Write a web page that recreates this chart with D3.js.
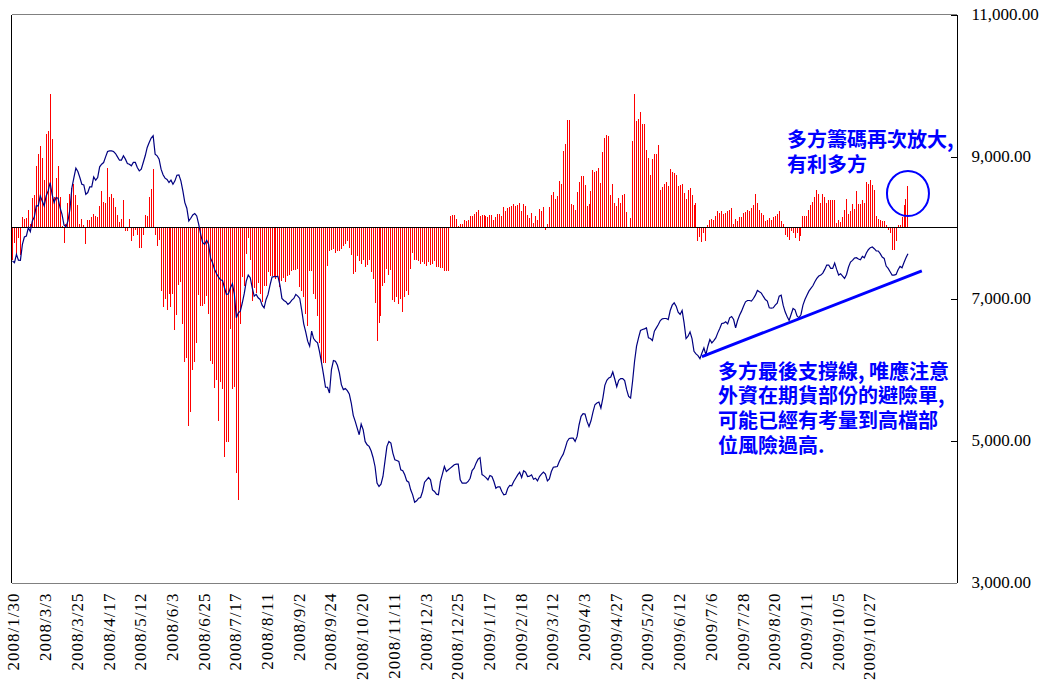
<!DOCTYPE html>
<html>
<head>
<meta charset="utf-8">
<script src="https://cdn.jsdelivr.net/npm/d3@7"></script>
<style>
	body { margin: 0; background: #fff; }
	svg { display: block; }
	.serif text { font-family: "Liberation Serif", "Times New Roman", serif; }
</style>
</head>
<body>
<svg id="chart" width="1046" height="684"></svg>
<script>
// date labels, one every 16 trading days
var tickLabels = ["2008/1/30", "2008/3/3", "2008/3/25", "2008/4/17", "2008/5/12", "2008/6/3", "2008/6/25",
	"2008/7/17", "2008/8/11", "2008/9/2", "2008/9/24", "2008/10/20", "2008/11/11", "2008/12/3", "2008/12/25",
	"2009/1/17", "2009/2/18", "2009/3/12", "2009/4/3", "2009/4/27", "2009/5/20", "2009/6/12", "2009/7/6",
	"2009/7/28", "2009/8/20", "2009/9/11", "2009/10/5", "2009/10/27"];
var labelEvery = 16;
var slotCount = 477;

// foreign futures net open interest (contracts), one per trading day
var barValues = [
	-3200, -1500, -2700, -1000, -2700, 1000, 800, 900, 1700, 300,
	2900, 3200, 6100, 7200, 8000, 6900, 4700, 9200, 9500, 13200,
	8700, 3000, 4900, 6100, 3000, 100, -1500, 300, 2400, 3300,
	3900, 4300, 3200, 2200, 300, 800, 200, -1600, 700, 700,
	1000, 1300, 1100, 1000, 2100, 3600, 2500, 2400, 5900, 3000,
	3300, 2900, 2000, 1200, 500, 800, 2700, -300, -300, 800,
	-1300, -800, -200, -700, -2000, -2000, -700, 1200, 1100, 3000,
	3800, 5800, -700, -1800, -1200, -6200, -7800, -7000, -8100, -6500,
	-7800, -6500, -10100, -8600, -5600, -5300, -9500, -13200, -12800, -19500,
	-18100, -14000, -13200, -11300, -6600, -7700, -7700, -7500, -6700, -8500,
	-13100, -13400, -15800, -15000, -19000, -15200, -15900, -22600, -21100, -21100,
	-10000, -15900, -15700, -24200, -26800, -9500, -4800, -5700, -2600, -1000,
	-3200, -7200, -5900, -6400, -5400, -6500, -7300, -5700, -5700, -4300,
	-4700, -4700, -4800, -5000, -4800, -5800, -5200, -4900, -5300, -4700,
	-4600, -4200, -4100, -4100, -4000, -5800, -6200, -6800, -8500, -9700,
	-4200, -4200, -6500, -7000, -8700, -11300, -13300, -13300, -13300, -3700,
	-2300, -2200, -2100, -2500, -2300, -2300, -2100, -1800, -1600, -1300,
	-2000, -2700, -4500, -4300, -2800, -3300, -3500, -3200, -3800, -3600,
	-3200, -4300, -5000, -7400, -11100, -9400, -8700, -5700, -5400, -4000,
	-4600, -4100, -7100, -7300, -6800, -7500, -7000, -8300, -6800, -6200,
	-6600, -4000, -2500, -3200, -3200, -3300, -3500, -3400, -3500, -3700,
	-3400, -3600, -3500, -3300, -3800, -3800, -3900, -3900, -4200, -4200,
	-4200, 1100, 1200, 1200, 800, 100, 300, 300, 700, 600,
	700, 1100, 1100, 1300, 1500, 1700, 1100, 1200, 1200, 1100,
	1000, 1200, 1200, 700, 1000, 1300, 1300, 1100, 2000, 1600,
	1900, 2000, 2100, 2300, 2100, 2200, 2400, 1600, 2300, 2100,
	1200, 900, 1400, 400, 1100, 700, 1800, 1600, 2000, -200,
	300, 2000, 3200, 3500, 2800, 3100, 4600, 4300, 7500, 8200,
	10600, 10600, 2300, 2200, 1700, 3500, 4500, 5100, 5100, 4200,
	2100, 2300, 3600, 5700, 5500, 5600, 5900, 4400, 7400, 8800,
	9100, 9000, 3200, 4300, 2400, 2100, 2900, 2400, 3200, 3300,
	1500, 0, 900, 8500, 13200, 10500, 10700, 11400, 10200, 10200,
	7600, 6900, 5200, 6800, 7200, 7200, 8100, 3700, 4000, 4300,
	4500, 4100, 5800, 5500, 5400, 5200, 4100, 4200, 4300, 3400,
	2800, 3700, 3900, 3200, 2200, 2400, -1300, -900, -1400, -500,
	-1300, 200, 700, 800, 700, 1100, 1600, 1400, 1600, 1300,
	1400, 1600, 1700, 1900, 300, 800, 600, 1000, 1000, 1400,
	1500, 1700, 1600, 1900, 2200, 3300, 2400, 1700, 1400, 1200,
	600, 700, 900, 700, 1000, 1100, 1300, 1600, 600, 300,
	-700, -900, -1200, -300, -500, -1000, -500, -1300, -800, 1100,
	1100, 1100, 1700, 2200, 2500, 3000, 3700, 3300, 2400, 3300,
	3000, 2400, 2700, 2700, 2700, 2700, 400, 700, 500, 1000,
	1700, 2800, 1300, 1600, 2300, 1800, 3600, 2300, 2300, 2700,
	2400, 4500, 4300, 4700, 4200, 3700, 1100, 800, 700, 600,
	600, 200, -200, -500, -2200, -2200, -1300, 200, 200, 1000,
	2200, 2800, 4100
];

// TAIEX close, same trading days
var indexValues = [
	7527, 7504, 7621, 7541, 7537, 7763, 7866, 7880, 7998, 7941,
	8092, 8148, 8304, 8304, 8445, 8374, 8304, 8445, 8515, 8633,
	8468, 8351, 8421, 8412, 8280, 8186, 8035, 8007, 8092, 8257,
	8562, 8704, 8835, 8788, 8704, 8610, 8600, 8468, 8492, 8572,
	8572, 8713, 8666, 8704, 8854, 8892, 8915, 8995, 9070, 9080,
	9080, 9070, 9042, 8995, 8948, 8949, 9010, 8963, 8902, 8892,
	8869, 8916, 8916, 8845, 8798, 8822, 8916, 9010, 9128, 9198,
	9259, 9292, 9034, 9010, 8963, 8822, 8742, 8695, 8676, 8634,
	8667, 8610, 8657, 8737, 8742, 8657, 8516, 8351, 8271, 8093,
	8130, 8177, 8196, 8163, 8045, 7904, 7787, 7763, 7820, 7763,
	7566, 7504, 7410, 7349, 7302, 7264, 7255, 7151, 7057, 7067,
	7151, 7208, 7057, 6728, 6799, 6822, 6940, 7072, 7246, 7330,
	7293, 7152, 7034, 7058, 7010, 6987, 6907, 6869, 6987, 7058,
	7189, 7302, 7307, 7307, 7312, 7189, 7001, 6973, 6954, 6916,
	6940, 6978, 7001, 7058, 7034, 7001, 6832, 6643, 6531, 6399,
	6328, 6540, 6436, 6399, 6375, 6248, 6093, 5928, 5750, 5750,
	5670, 5999, 6126, 6117, 6060, 5952, 5787, 5717, 5731, 5702,
	5655, 5528, 5354, 5270, 5175, 5081, 5232, 5152, 4987, 4940,
	4917, 4856, 4761, 4634, 4399, 4352, 4385, 4493, 4705, 4917,
	4987, 4964, 4823, 4729, 4719, 4705, 4587, 4573, 4517, 4432,
	4413, 4305, 4235, 4131, 4150, 4187, 4197, 4282, 4413, 4446,
	4479, 4446, 4305, 4282, 4244, 4235, 4423, 4526, 4634, 4564,
	4587, 4611, 4634, 4658, 4667, 4667, 4446, 4399, 4399, 4399,
	4423, 4469, 4577, 4610, 4681, 4737, 4760, 4520, 4502, 4478,
	4446, 4507, 4493, 4422, 4328, 4347, 4347, 4281, 4234, 4243,
	4328, 4366, 4361, 4422, 4469, 4516, 4554, 4478, 4573, 4554,
	4493, 4497, 4516, 4455, 4469, 4431, 4493, 4526, 4554, 4526,
	4431, 4460, 4563, 4624, 4629, 4634, 4704, 4761, 4808, 4893,
	4987, 5029, 5034, 5034, 4987, 5057, 5222, 5340, 5377, 5372,
	5269, 5198, 5278, 5401, 5504, 5528, 5542, 5457, 5598, 5777,
	5848, 5881, 5895, 5965, 5866, 5758, 5848, 5871, 5871, 5843,
	5716, 5622, 5598, 5834, 6116, 6328, 6445, 6549, 6563, 6572,
	6586, 6445, 6436, 6408, 6539, 6586, 6633, 6690, 6713, 6718,
	6718, 6704, 6831, 6906, 6939, 6892, 6807, 6775, 6831, 6657,
	6436, 6469, 6530, 6436, 6257, 6219, 6196, 6153, 6233, 6304,
	6210, 6328, 6422, 6375, 6408, 6445, 6516, 6577, 6648, 6652,
	6671, 6643, 6728, 6746, 6704, 6586, 6690, 6765, 6822, 6892,
	6953, 6972, 6972, 6963, 7000, 7047, 7113, 7094, 7076, 7029,
	6986, 6963, 6869, 6864, 6869, 6906, 6935, 7033, 7047, 6906,
	6812, 6746, 6690, 6775, 6859, 6840, 6756, 6728, 6775, 6906,
	6986, 7047, 7104, 7142, 7179, 7236, 7283, 7316, 7330, 7358,
	7410, 7471, 7471, 7424, 7424, 7499, 7410, 7330, 7349, 7316,
	7283, 7339, 7443, 7513, 7537, 7570, 7574, 7556, 7546, 7593,
	7574, 7640, 7687, 7716, 7725, 7701, 7669, 7669, 7631, 7584,
	7565, 7457, 7424, 7377, 7330, 7330, 7339, 7405, 7452, 7433,
	7508, 7574, 7631
];

var indexTicks = [3000, 5000, 7000, 9000, 11000];

// hand drawn support line and the circle around the last bars
var supportLine = [{day: 348, value: 6180}, {day: 459, value: 7390}];
var highlight = {day: 452, value: 8480};

var noteTop = ["多方籌碼再次放大,", "有利多方"];
var noteBottom = ["多方最後支撐線, 唯應注意", "外資在期貨部份的避險單,", "可能已經有考量到高檔部", "位風險過高."];

var svg = d3.select("#chart");
var plotLeft = 11.5, plotRight = 956.5, plotTop = 14.5, plotBottom = 582.5;

var x = d3.scaleBand().domain(d3.range(slotCount)).range([plotLeft, plotRight]);
var cx = function(i) { return x(i) + x.bandwidth() / 2; };
var y = d3.scaleLinear().domain([3000, 11000]).range([plotBottom, plotTop]);
var y2 = d3.scaleLinear().domain([-35000, 21000]).range([plotBottom, plotTop]);	//hidden bar axis

//bars
var zero = y2(0);
svg.append("g")
	.attr("shape-rendering", "crispEdges")
	.selectAll("rect")
	.data(barValues)
	.enter().append("rect")
	.attr("x", function(d, i) { return Math.floor(cx(i)); })
	.attr("width", 1)
	.attr("y", function(d) { return Math.round(y2(Math.max(0, d))); })
	.attr("height", function(d) { return Math.round(Math.abs(y2(d) - zero)); })
	.attr("fill", "#ff0000");

//frame
svg.append("line")
	.attr("x1", plotLeft).attr("x2", plotRight).attr("y1", plotTop).attr("y2", plotTop)
	.attr("stroke", "#808080").attr("shape-rendering", "crispEdges");
svg.append("line")
	.attr("x1", plotLeft).attr("x2", plotLeft).attr("y1", plotTop).attr("y2", plotBottom)
	.attr("stroke", "#000").attr("shape-rendering", "crispEdges");
svg.append("line")
	.attr("x1", plotLeft).attr("x2", plotRight).attr("y1", zero).attr("y2", zero)
	.attr("stroke", "#000").attr("shape-rendering", "crispEdges");

//index line
var line = d3.line()
	.x(function(d, i) { return cx(i); })
	.y(function(d) { return y(d); });
svg.append("path")
	.datum(indexValues)
	.attr("d", line)
	.attr("fill", "none")
	.attr("stroke", "#000080")
	.attr("stroke-width", 1.2);

//right axis, ticks point inward
var yAxis = svg.append("g")
	.attr("class", "serif")
	.attr("transform", "translate(" + plotRight + ",0)")
	.call(d3.axisRight(y).tickValues(indexTicks).tickSize(-6).tickSizeOuter(0)
		.tickPadding(15).tickFormat(d3.format(",.2f")));
yAxis.attr("shape-rendering", "crispEdges").attr("font-family", null);
yAxis.selectAll("text")
	.attr("font-size", 17)
	.attr("fill", "#000");

//date axis
var xAxis = svg.append("g")
	.attr("class", "serif")
	.attr("transform", "translate(0," + plotBottom + ")")
	.call(d3.axisBottom(x)
		.tickValues(d3.range(0, tickLabels.length * labelEvery, labelEvery))
		.tickFormat(function(i) { return tickLabels[i / labelEvery]; })
		.tickSize(0).tickSizeOuter(0));
xAxis.attr("shape-rendering", "crispEdges").attr("font-family", null);
xAxis.select(".domain").attr("stroke", "#808080");
xAxis.selectAll("text")
	.attr("transform", "rotate(-90)")
	.attr("text-anchor", "end")
	.attr("x", -10)
	.attr("y", 1)
	.attr("dy", "0.35em")
	.attr("letter-spacing", "1px")
	.attr("font-size", 17)
	.attr("fill", "#000");

//annotations
svg.append("line")
	.attr("x1", cx(supportLine[0].day)).attr("y1", y(supportLine[0].value))
	.attr("x2", cx(supportLine[1].day)).attr("y2", y(supportLine[1].value))
	.attr("stroke", "#0000ff")
	.attr("stroke-width", 3);

svg.append("ellipse")
	.attr("cx", cx(highlight.day))
	.attr("cy", y(highlight.value))
	.attr("rx", 21).attr("ry", 22.5)
	.attr("fill", "none")
	.attr("stroke", "#0000ff")
	.attr("stroke-width", 2);

function note(lines, x0, y0, step) {
	svg.append("g").selectAll("text")
		.data(lines)
		.enter().append("text")
		.attr("x", x0)
		.attr("y", function(d, i) { return y0 + i * step; })
		.attr("dominant-baseline", "central")
		.attr("font-family", "'Noto Sans CJK TC', 'Noto Sans CJK SC', sans-serif")
		.attr("font-size", 20)
		.attr("font-weight", "bold")
		.attr("fill", "#0000ff")
		.text(function(d) { return d; });
}
note(noteTop, 787, 138, 25);
note(noteBottom, 718, 370, 24.7);
</script>
</body>
</html>
